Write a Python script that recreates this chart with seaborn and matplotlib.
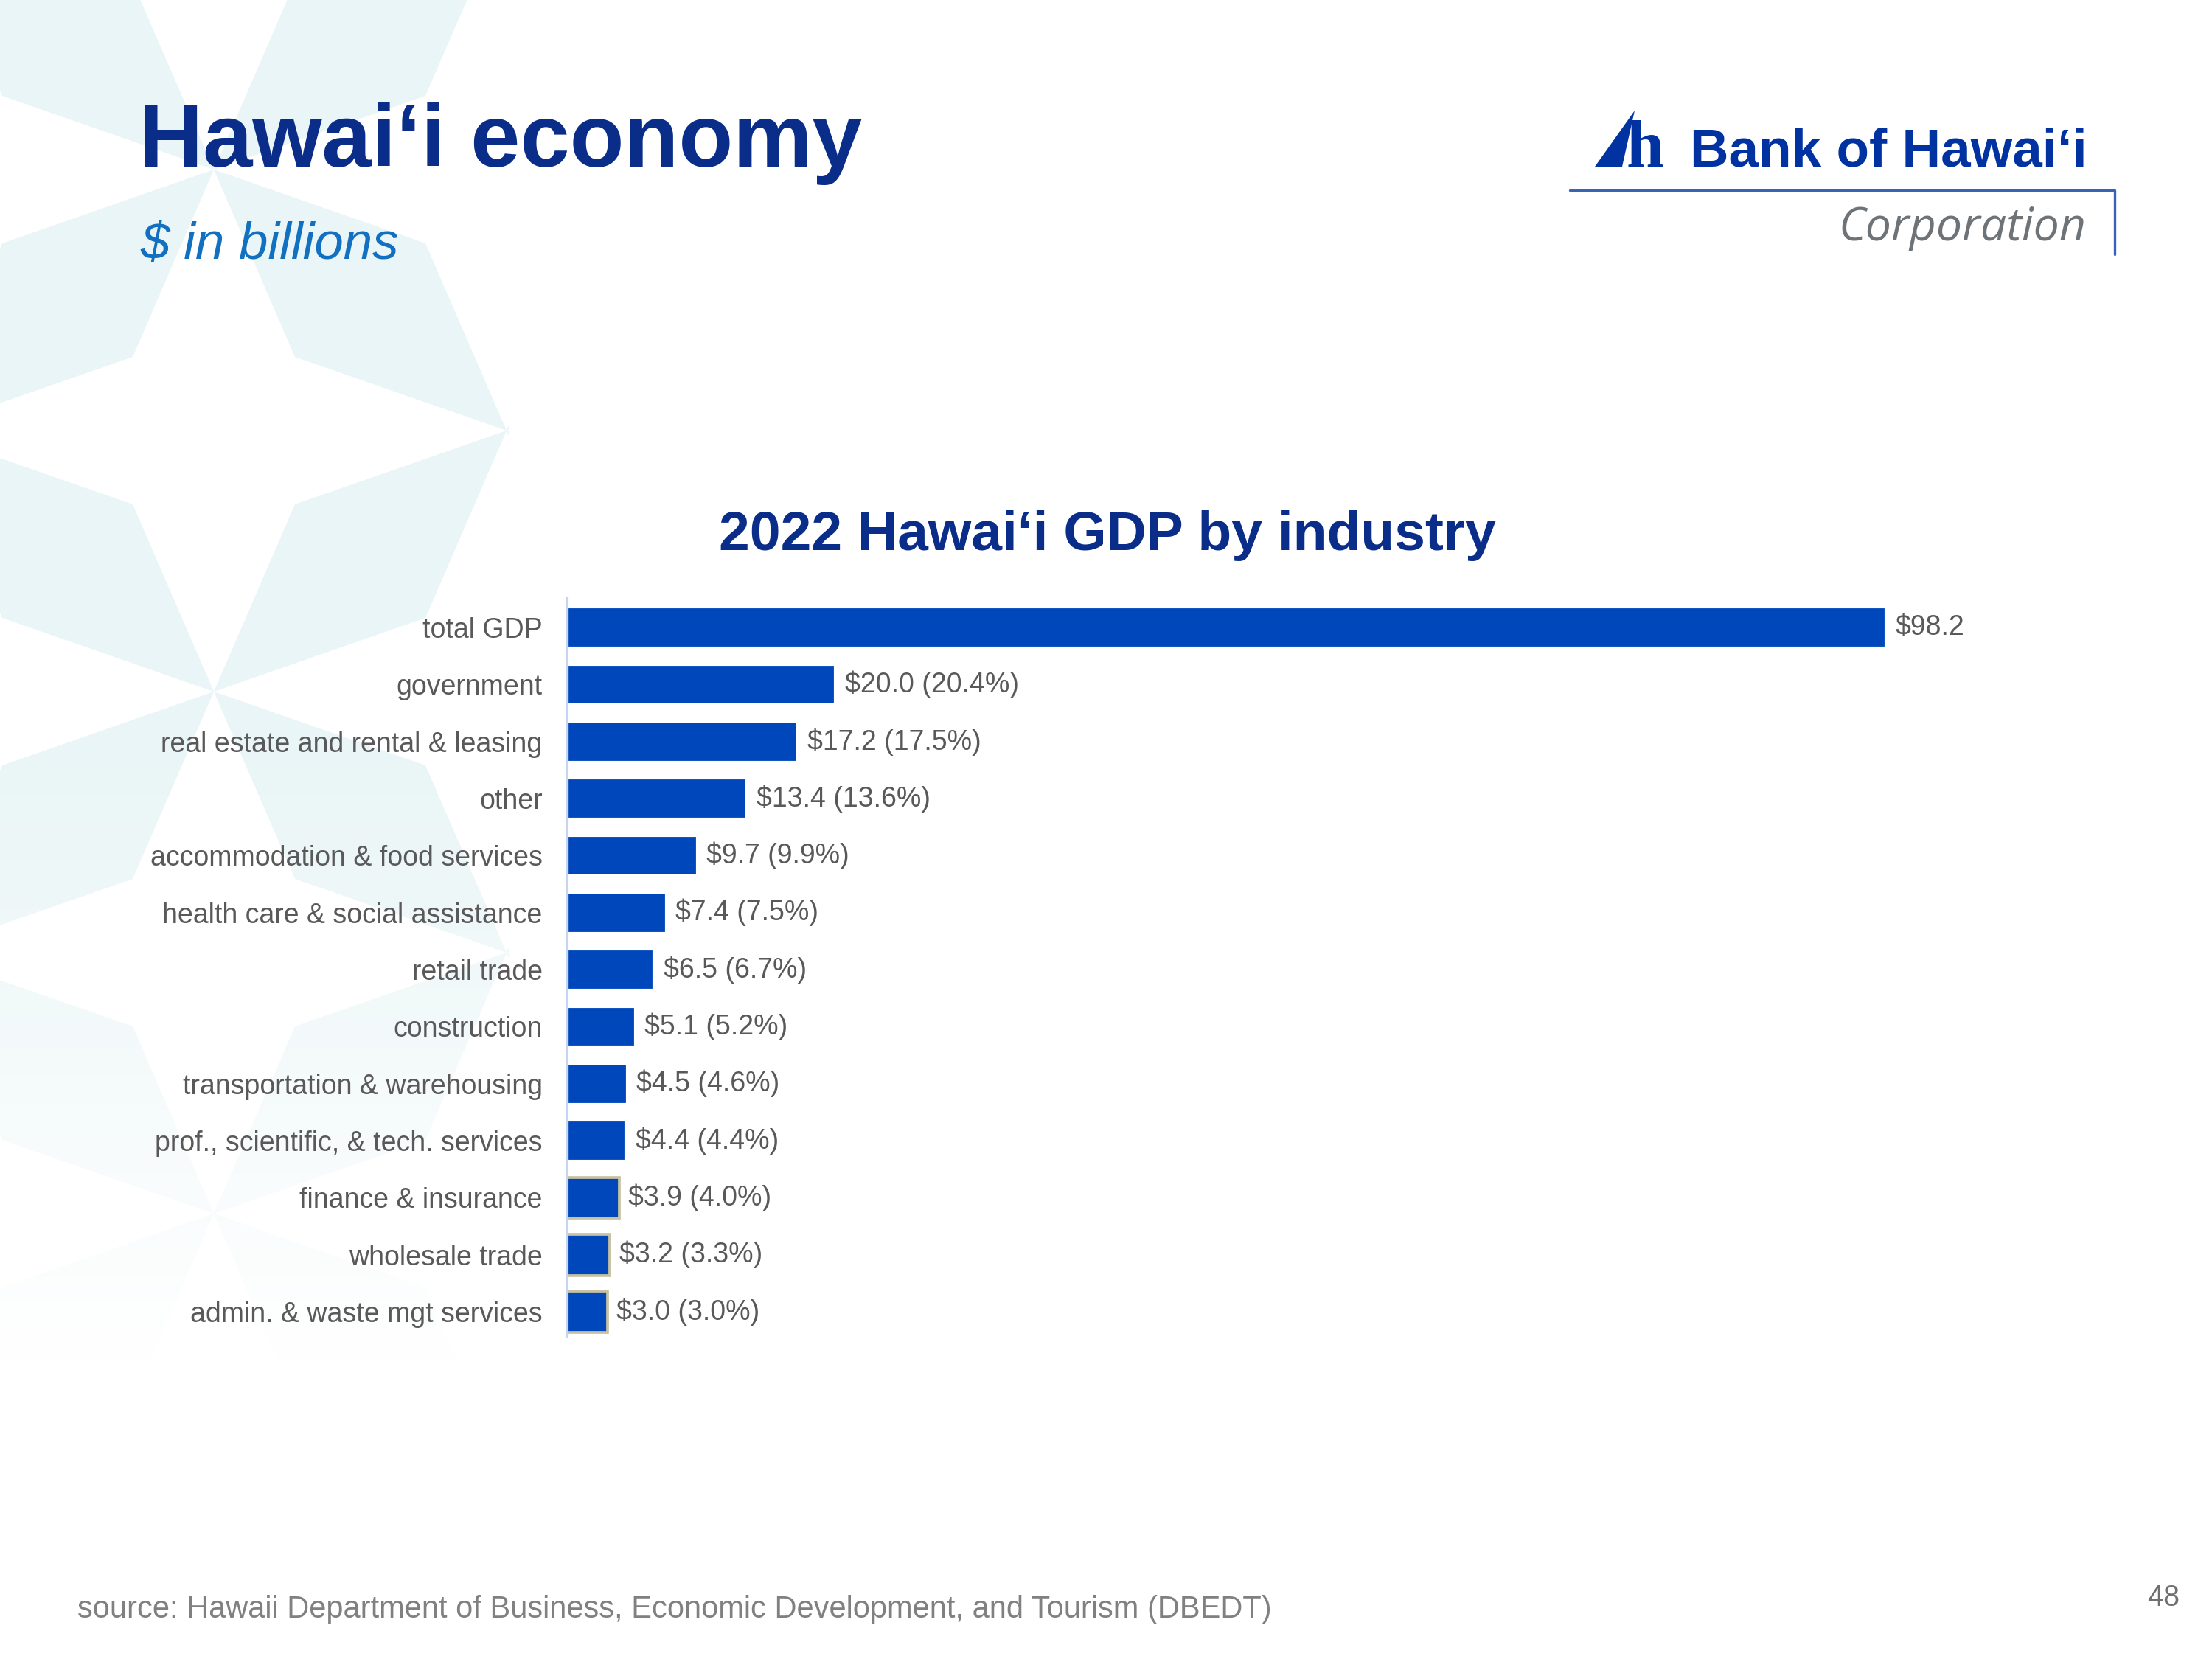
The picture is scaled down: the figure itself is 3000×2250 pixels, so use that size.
########################################################
# Required Python Packages
########################################################
import numpy as np
import pandas as pd
import seaborn as sns
import matplotlib.pyplot as plt
from matplotlib.patches import Polygon

########################################################
# Chart data (2022 Hawai'i GDP by industry, $ in billions)
########################################################
industries = [
    "total GDP",
    "government",
    "real estate and rental & leasing",
    "other",
    "accommodation & food services",
    "health care & social assistance",
    "retail trade",
    "construction",
    "transportation & warehousing",
    "prof., scientific, & tech. services",
    "finance & insurance",
    "wholesale trade",
    "admin. & waste mgt services",
]
gdp_billions = [98.2, 20.0, 17.2, 13.4, 9.7, 7.4, 6.5, 5.1, 4.5, 4.4, 3.9, 3.2, 3.0]
share_pct = [None, 20.4, 17.5, 13.6, 9.9, 7.5, 6.7, 5.2, 4.6, 4.4, 4.0, 3.3, 3.0]

########################################################
# Colours
########################################################
NAVY = "#0a2d8a"
BAR_BLUE = "#0047bb"
LABEL_GREY = "#595959"
LIGHT_TEAL = (0.915, 0.962, 0.965)


########################################################
# Background star pattern (pixel coords, y down)
########################################################
def StarPattern(bg):
    # light teal wash on the left, fading towards the bottom
    ys = np.linspace(0, 2250, 400)
    alpha = np.clip((1850 - ys) / 850.0, 0, 1)
    img = np.zeros((len(ys), 1, 4))
    img[:, 0, :3] = LIGHT_TEAL
    img[:, 0, 3] = alpha
    bg.imshow(img, extent=(0, 690, 2250, 0), aspect="auto", zorder=0)

    # white four-point stars cut out of the wash
    for i in range(-2, 3):
        for j in range(-3, 8):
            if (i + j) % 2:
                continue
            cx, cy = 290 + 397 * i, 584 + 354 * j
            pts = [(cx, cy - 354), (cx + 110, cy - 100), (cx + 397, cy),
                   (cx + 110, cy + 100), (cx, cy + 354), (cx - 110, cy + 100),
                   (cx - 397, cy), (cx - 110, cy - 100)]
            bg.add_patch(Polygon(pts, closed=True, facecolor="white",
                                 edgecolor="none", zorder=1))


########################################################
# Logo in the top right corner
########################################################
def Logo(bg):
    bg.add_patch(Polygon([(2163, 226), (2200, 226), (2217, 150)], closed=True,
                         facecolor="#0033a1", edgecolor="none", zorder=3))
    bg.text(2206, 226, "h", fontsize=22, fontweight="bold", color="#0033a1",
            family=["Liberation Serif", "DejaVu Serif"], va="baseline", zorder=3)
    bg.text(2292, 226, "Bank of Hawai\u2018i", fontsize=17.5, fontweight="bold",
            color="#0033a1", family=["Liberation Sans Narrow", "Liberation Sans"],
            va="baseline", zorder=3)
    bg.plot([2129, 2868, 2868], [258, 258, 345], color="#3a62b8", lw=0.8, zorder=3)
    bg.text(2829, 326, "Corporation", fontsize=15, style="italic", color="#6e7377",
            family=["Open Sans", "DejaVu Sans"], ha="right", va="baseline", zorder=3)


########################################################
# Main Execution
########################################################
def main():
    sns.set_theme(style="white")
    plt.rcParams["font.family"] = ["Liberation Sans", "DejaVu Sans"]

    fig = plt.figure(figsize=(10, 7.5), dpi=300)

    bg = fig.add_axes([0, 0, 1, 1], zorder=-1)
    bg.set_xlim(0, 3000)
    bg.set_ylim(2250, 0)
    bg.axis("off")
    StarPattern(bg)
    Logo(bg)

    # slide titles
    bg.text(188, 226, "Hawai\u2018i economy", fontsize=29, fontweight="bold",
            color=NAVY, va="baseline", zorder=3)
    bg.text(190, 351, "$ in billions", fontsize=17, style="italic",
            color="#1170c0", va="baseline", zorder=3)
    bg.text(1502, 746, "2022 Hawai\u2018i GDP by industry", fontsize=18,
            fontweight="bold", color=NAVY, ha="center", va="baseline", zorder=3)
    bg.text(105, 2194, "source: Hawaii Department of Business, Economic Development, "
            "and Tourism (DBEDT)", fontsize=10, color="#808080", va="baseline", zorder=3)
    bg.text(2956, 2178, "48", fontsize=9.5, color="#707070", ha="right",
            va="baseline", zorder=3)

    # bar chart
    df = pd.DataFrame({"industry": industries, "gdp": gdp_billions})
    ax = fig.add_axes([0.2563, 0.1942, 0.668, 0.4454])
    ax.patch.set_alpha(0)
    sns.barplot(data=df, x="gdp", y="industry", orient="h", color=BAR_BLUE,
                saturation=1, width=0.72, ax=ax)
    ax.set_xlim(0, 110)
    ax.set_ylim(12.44, -0.52)

    # thin tan outline on the smallest bars, as in the source slide
    for patch in ax.patches[-3:]:
        patch.set_edgecolor("#c9c2a2")
        patch.set_linewidth(0.9)

    labels = [f"${v:.1f}" if p is None else f"${v:.1f} ({p:.1f}%)"
              for v, p in zip(gdp_billions, share_pct)]
    ax.bar_label(ax.containers[0], labels=labels, padding=3, fontsize=9,
                 color=LABEL_GREY)

    ax.set_xlabel("")
    ax.set_ylabel("")
    ax.xaxis.set_visible(False)
    ax.tick_params(axis="y", length=0, pad=8, labelsize=9, labelcolor=LABEL_GREY)
    sns.despine(ax=ax, top=True, right=True, bottom=True, left=False)
    ax.spines["left"].set_color("#c6d6f2")
    ax.spines["left"].set_linewidth(1.0)

    fig.savefig("out.png", dpi=300)


if __name__ == "__main__":
    main()
